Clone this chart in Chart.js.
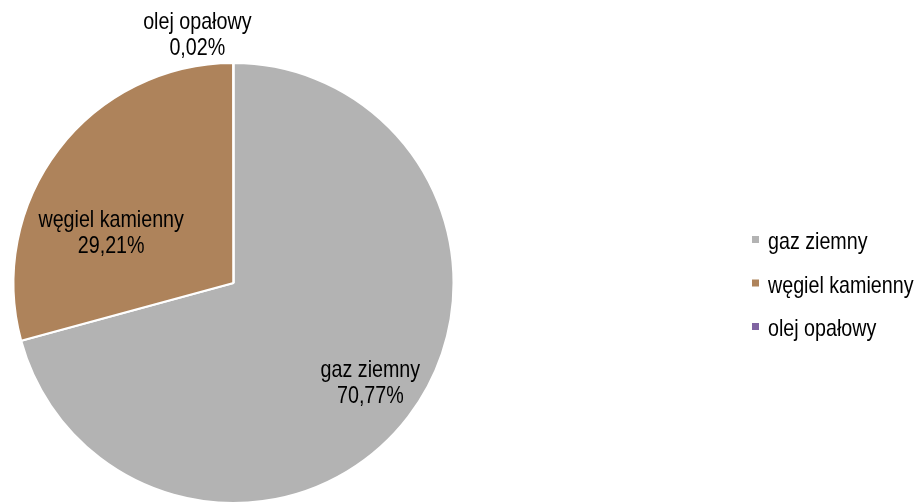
<!DOCTYPE html>
<html>
<head>
<meta charset="utf-8">
<script src="https://cdn.jsdelivr.net/npm/chart.js@4/dist/chart.umd.min.js"></script>
<style>
  html,body{margin:0;padding:0;background:#fff;width:918px;height:503px;overflow:hidden;}
  #wrap{position:absolute;left:0;top:0;width:918px;height:510px;}
</style>
</head>
<body>
<div id="wrap"><canvas id="piechart"></canvas></div>
<script>
var categories=['gaz ziemny','węgiel kamienny','olej opałowy'];
var shares=[70.77,29.21,0.02];
var colors=['#b3b3b3','#ae835b','#8064a2'];
// label placement: angle shift (deg) from slice middle, fraction of radius
var labelPos=[{da:-1.6,f:0.767},{da:-14.6,f:0.603},{da:-8.2,f:1.148}];
var FONT='24px "Liberation Sans",Arial,sans-serif';
var NARROW=0.82; // squeeze Liberation Sans to look like Arial Narrow

function narrowText(ctx,txt,x,y,align){
  ctx.save();
  ctx.translate(x,y);
  ctx.scale(NARROW,1);
  ctx.textAlign=align;
  ctx.fillText(txt,0,0);
  ctx.restore();
}

var labelPlugin={
  id:'sliceLabels',
  afterDatasetsDraw:function(chart){
    var ctx=chart.ctx;
    var arcs=chart.getDatasetMeta(0).data;
    ctx.save();
    ctx.font=FONT;
    ctx.fillStyle='#000';
    ctx.textBaseline='alphabetic';
    arcs.forEach(function(a,i){
      var mid=(a.startAngle+a.endAngle)/2+labelPos[i].da*Math.PI/180;
      var r=a.outerRadius*labelPos[i].f;
      var x=a.x+Math.cos(mid)*r, y=a.y+Math.sin(mid)*r;
      narrowText(ctx,categories[i],x,y-4.5,'center');
      narrowText(ctx,shares[i].toFixed(2).replace('.',',')+'%',x,y+21.5,'center');
    });
    // legend
    categories.forEach(function(c,i){
      var by=249+i*43.5;
      ctx.fillStyle=colors[i];
      ctx.fillRect(752,by-13,7,7);
      ctx.fillStyle='#000';
      narrowText(ctx,c,768,by,'left');
    });
    ctx.restore();
  }
};

var chart=document.getElementById('piechart');
var myChart=new Chart(chart,{
  type:'pie',
  data:{
    labels:categories,
    datasets:[{
      data:shares,
      backgroundColor:colors,
      borderColor:'#fff',
      borderWidth:2
    }]
  },
  options:{
    responsive:true,
    maintainAspectRatio:false,
    animation:false,
    layout:{padding:{left:12,right:463,top:62,bottom:6}},
    plugins:{legend:{display:false},tooltip:{enabled:false}}
  },
  plugins:[labelPlugin]
});
</script>
</body>
</html>
